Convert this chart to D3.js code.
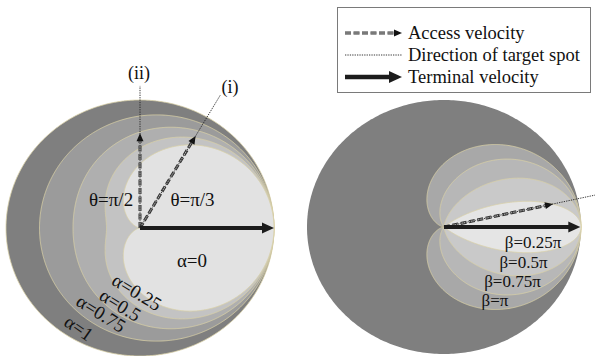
<!DOCTYPE html>
<html>
<head>
<meta charset="utf-8">
<script src="https://cdn.jsdelivr.net/npm/d3@7"></script>
<style>
  html, body { margin: 0; padding: 0; background: #fff; }
  svg { display: block; }
  text { font-family: "Liberation Serif", "Times New Roman", serif; fill: #111; }
</style>
</head>
<body>
<svg id="chart" width="595" height="356"></svg>
<script>
// Reachable-region parameters and fills (left panel: α family, right panel: β family)
const alphas = [1, 0.75, 0.5, 0.25, 0];
const alphaFills = ["#7f7f7f", "#9b9b9b", "#afafaf", "#c3c3c3", "#e2e2e2"];
const alphaLabels = ["α=1", "α=0.75", "α=0.5", "α=0.25", "α=0"];

const betas = [1, 0.75, 0.5, 0.25];            // in units of π
const betaFills = ["#a8a8a8", "#b7b7b7", "#c9c9c9", "#e5e5e5"];
const betaLabels = ["β=π", "β=0.75π", "β=0.5π", "β=0.25π"];
const outerFill = "#7f7f7f";

// Access velocities (direction θ in rad, magnitude relative to terminal speed)
const accessLeft = [
  { theta: Math.PI / 2, mag: 0.74, target: 1.11, name: "(ii)", tag: "θ=π/2" },
  { theta: Math.PI / 3, mag: 0.83, target: 1.2, name: "(i)", tag: "θ=π/3" }
];
const accessRight = [{ theta: 0.224, mag: 0.816, target: 1.4 }];
const terminalSpeed = 1;

const legendItems = ["Access velocity", "Direction of target spot", "Terminal velocity"];

const svg = d3.select("#chart");
const edge = "#d9d0a6";

function panel(cx, cy, rx, ry) {
  return {
    x: d3.scaleLinear().domain([-1, 1]).range([cx - rx, cx + rx]),
    y: d3.scaleLinear().domain([-1, 1]).range([cy + ry, cy - ry])
  };
}
const L = panel(140, 228, 134, 128);
const R = panel(444, 227, 137, 127);

function polarPath(s, rFn, a0, a1, n) {
  const pts = d3.range(n + 1).map(i => {
    const a = a0 + (a1 - a0) * i / n;
    const r = rFn(a);
    return [r * Math.cos(a), r * Math.sin(a)];
  });
  return d3.line().x(d => s.x(d[0])).y(d => s.y(d[1]))(pts) + "Z";
}

// Left panel: limaçon blend between full circle (α=1) and cardioid (α=0)
const gL = svg.append("g");
gL.selectAll("path.region").data(alphas).join("path")
  .attr("class", "region")
  .attr("d", a => polarPath(L, p => a + (1 - a) * (1 + Math.cos(p)) / 2, -Math.PI, Math.PI, 720))
  .attr("fill", (a, i) => alphaFills[i])
  .attr("stroke", edge).attr("stroke-width", 0.8);

// Right panel: outer circle then lobes r = (1+cos(πφ/β))/2 for |φ|≤β
const gR = svg.append("g");
gR.append("path")
  .attr("d", polarPath(R, () => 1, -Math.PI, Math.PI, 360))
  .attr("fill", outerFill);
gR.selectAll("path.region").data(betas).join("path")
  .attr("class", "region")
  .attr("d", b => polarPath(R, p => (1 + Math.cos(p / b)) / 2, -b * Math.PI, b * Math.PI, 720))
  .attr("fill", (b, i) => betaFills[i])
  .attr("stroke", edge).attr("stroke-width", 0.8);

// Arrow helpers
function head(g, x1, y1, x2, y2, len, half, color) {
  const ang = Math.atan2(y2 - y1, x2 - x1);
  const bx = x2 - len * Math.cos(ang), by = y2 - len * Math.sin(ang);
  const nx = -Math.sin(ang) * half, ny = Math.cos(ang) * half;
  g.append("path")
    .attr("d", `M${x2},${y2}L${bx + nx},${by + ny}L${bx - nx},${by - ny}Z`)
    .attr("fill", color);
  return [bx, by];
}
function terminal(g, x1, y1, x2, y2, w, len, half) {
  const [bx, by] = head(g, x1, y1, x2, y2, len, half, "#1c1c1c");
  g.append("line").attr("x1", x1).attr("y1", y1).attr("x2", bx + (x2 - bx) * 0.2).attr("y2", by + (y2 - by) * 0.2)
    .attr("stroke", "#1c1c1c").attr("stroke-width", w);
}
function access(g, x1, y1, x2, y2) {
  const ang = Math.atan2(y2 - y1, x2 - x1);
  const ex = x2 - 5 * Math.cos(ang), ey = y2 - 5 * Math.sin(ang);
  g.append("line").attr("x1", x1).attr("y1", y1).attr("x2", ex).attr("y2", ey)
    .attr("stroke", "#333").attr("stroke-width", 3).attr("stroke-dasharray", "6,2.5");
  g.append("line").attr("x1", x1).attr("y1", y1).attr("x2", ex).attr("y2", ey)
    .attr("stroke", "#e4e4e4").attr("stroke-width", 0.8).attr("stroke-dasharray", "6,2.5");
  head(g, x1, y1, x2, y2, 8, 3.5, "#111");
}
function target(g, x1, y1, x2, y2) {
  g.append("line").attr("x1", x1).attr("y1", y1).attr("x2", x2).attr("y2", y2)
    .attr("stroke", "#222").attr("stroke-width", 0.9).attr("stroke-dasharray", "1.3,1.1");
}

// Left arrows
accessLeft.forEach(v => {
  access(gL, L.x(0), L.y(0), L.x(v.mag * Math.cos(v.theta)), L.y(v.mag * Math.sin(v.theta)));
  target(gL, L.x(0), L.y(0), L.x(v.target * Math.cos(v.theta)), L.y(v.target * Math.sin(v.theta)));
});
terminal(gL, L.x(0), L.y(0), L.x(terminalSpeed), L.y(0), 4, 12, 5.5);

// Right arrows
accessRight.forEach(v => {
  access(gR, R.x(0), R.y(0), R.x(v.mag * Math.cos(v.theta)), R.y(v.mag * Math.sin(v.theta)));
  target(gR, R.x(0), R.y(0), R.x(v.target * Math.cos(v.theta)), R.y(v.target * Math.sin(v.theta)));
});
terminal(gR, R.x(0), R.y(0), R.x(terminalSpeed * 0.995), R.y(0), 4, 12, 5.5);

// Left labels
const fs = 19;
gL.append("text").attr("x", L.x(-0.216)).attr("y", L.y(0.172)).attr("text-anchor", "middle")
  .attr("font-size", fs).text(accessLeft[0].tag);
gL.append("text").attr("x", L.x(0.392)).attr("y", L.y(0.172)).attr("text-anchor", "middle")
  .attr("font-size", fs).text(accessLeft[1].tag);
gL.append("text").attr("x", L.x(0.388)).attr("y", L.y(-0.305)).attr("text-anchor", "middle")
  .attr("font-size", fs).text(alphaLabels[4]);
gL.append("text").attr("x", L.x(-0.007)).attr("y", L.y(1.166)).attr("text-anchor", "middle")
  .attr("font-size", 18).text(accessLeft[0].name);
gL.append("text").attr("x", L.x(0.672)).attr("y", L.y(1.055)).attr("text-anchor", "middle")
  .attr("font-size", 18).text(accessLeft[1].name);

// Rotated α labels along the lower-left bands
const rotPos = [[-0.455, -0.78, 35], [-0.29, -0.666, 32], [-0.146, -0.6, 32], [-0.022, -0.5, 31]];
rotPos.forEach((p, i) => {
  gL.append("text")
    .attr("transform", `translate(${L.x(p[0])},${L.y(p[1])}) rotate(${p[2]})`)
    .attr("text-anchor", "middle").attr("dy", "0.35em")
    .attr("font-size", fs).text(alphaLabels[i]);
});

// Right labels
const betaPos = [[0.372, -0.622], [0.5, -0.472], [0.58, -0.323], [0.65, -0.165]];
betaPos.forEach((p, i) => {
  gR.append("text").attr("x", R.x(p[0])).attr("y", R.y(p[1])).attr("text-anchor", "middle")
    .attr("font-size", 17).text(betaLabels[i]);
});

// Legend
const lg = svg.append("g");
lg.append("rect").attr("x", 337.5).attr("y", 7.5).attr("width", 253).attr("height", 85)
  .attr("fill", "#fff").attr("stroke", "#7a7a7a").attr("stroke-width", 1);
const rows = [33, 55, 77];
access(lg, 345, rows[0], 402, rows[0]);
target(lg, 345, rows[1], 402, rows[1]);
terminal(lg, 345, rows[2], 402, rows[2], 4.5, 13, 6);
legendItems.forEach((t, i) => {
  lg.append("text").attr("x", 408).attr("y", rows[i] + 6).attr("font-size", 18.5).text(t);
});
</script>
</body>
</html>
